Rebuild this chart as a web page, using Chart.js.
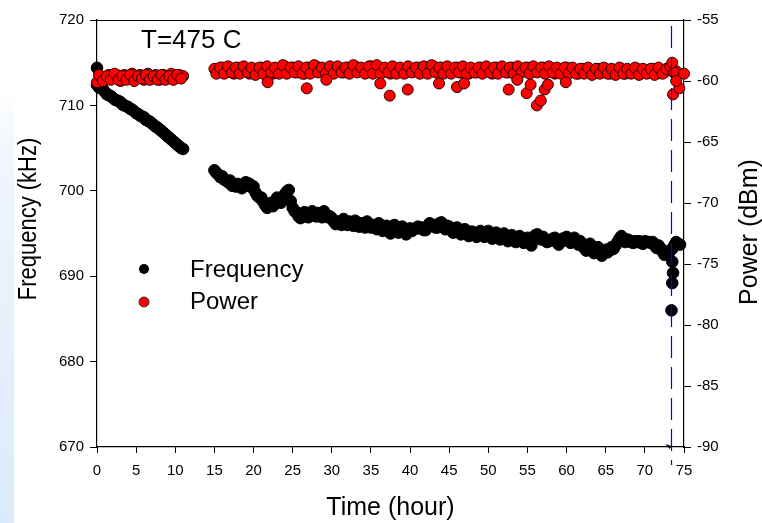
<!DOCTYPE html>
<html>
<head>
<meta charset="utf-8">
<script src="https://cdn.jsdelivr.net/npm/chart.js@4/dist/chart.umd.min.js"></script>
<style>
  body { margin: 0; background: #fff; }
  #wrap { width: 762px; height: 523px; }
</style>
</head>
<body>
<div id="wrap"><canvas id="chart" width="762" height="523"></canvas></div>
<script>
// Temps de mesure (heures) - deux segments, trou entre 11 et 15 h
const hours = [
  0, 0.5, 1, 1.5, 2, 2.5, 3, 3.5, 4, 4.5, 5, 5.5, 6, 6.5, 7, 7.5, 8, 8.5, 9, 9.5, 10, 10.5, 11,
  15, 15.5, 16, 16.5, 17, 17.5, 18, 18.5, 19, 19.5,
  20, 20.5, 21, 21.5, 22, 22.5, 23, 23.5, 24, 24.5,
  25, 25.5, 26, 26.5, 27, 27.5, 28, 28.5, 29, 29.5,
  30, 30.5, 31, 31.5, 32, 32.5, 33, 33.5, 34, 34.5,
  35, 35.5, 36, 36.5, 37, 37.5, 38, 38.5, 39, 39.5,
  40, 40.5, 41, 41.5, 42, 42.5, 43, 43.5, 44, 44.5,
  45, 45.5, 46, 46.5, 47, 47.5, 48, 48.5, 49, 49.5,
  50, 50.5, 51, 51.5, 52, 52.5, 53, 53.5, 54, 54.5,
  55, 55.5, 56, 56.5, 57, 57.5, 58, 58.5, 59, 59.5,
  60, 60.5, 61, 61.5, 62, 62.5, 63, 63.5, 64, 64.5,
  65, 65.5, 66, 66.5, 67, 67.5, 68, 68.5, 69, 69.5,
  70, 70.5, 71, 71.5, 72, 72.5, 73, 73.5, 74
];

// Fréquence (kHz)
const frequency = [
  712.4, 712.0, 711.6, 711.2, 710.9, 710.6, 710.4, 710.0, 709.8, 709.5, 709.1, 708.8,
  708.6, 708.2, 707.9, 707.5, 707.2, 706.8, 706.4, 706.0, 705.6, 705.2, 704.9,
  702.4, 701.9, 701.7, 701.2, 701.2, 700.7, 700.8, 700.3, 701.0, 700.8,
  700.5, 699.4, 699.2, 698.3, 698.3, 698.2, 699.2, 698.6, 699.6, 700.1,
  698.0, 697.5, 696.8, 697.5, 696.9, 697.6, 697.0, 697.2, 697.6, 696.9,
  696.8, 696.1, 696.3, 696.7, 696.0, 696.1, 696.5, 695.8, 696.0, 696.4,
  695.7, 695.8, 696.2, 695.3, 695.9, 695.0, 696.0, 695.1, 695.8, 694.9,
  695.6, 695.5, 695.8, 695.7, 695.4, 696.2, 696.0, 695.7, 696.3, 695.5,
  695.8, 695.1, 695.7, 694.9, 695.5, 694.7, 695.2, 694.6, 695.3, 694.6,
  695.3, 694.4, 695.1, 694.3, 695.0, 694.1, 694.8, 694.0, 694.7, 693.9,
  694.5, 693.6, 694.8, 694.6, 694.6, 694.0, 694.2, 694.5, 693.7, 694.4,
  694.6, 693.9, 694.5, 693.7, 693.7, 693.0, 693.8, 692.7, 693.4, 692.4,
  693.1, 693.0, 693.2, 694.0, 694.7, 694.0, 694.2, 693.9, 694.0, 693.9,
  694.1, 694.0, 694.0, 693.3, 693.3, 692.5, 692.6, 693.2, 694.0
];

// Puissance (dBm)
const power = [
  -60.1, -59.7, -59.9, -59.5, -59.8, -59.5, -60.0, -59.5, -59.8, -59.4, -59.8, -59.5,
  -59.9, -59.4, -59.8, -59.5, -59.9, -59.5, -59.8, -59.4, -59.8, -59.5, -59.6,
  -59.0, -59.3, -58.9, -59.3, -59.1, -59.4, -58.9, -59.2, -59.0, -59.4,
  -59.0, -59.3, -58.9, -59.3, -59.1, -59.4, -59.0, -59.3, -58.8, -59.2,
  -58.9, -59.3, -59.0, -59.4, -58.9, -59.2, -58.8, -59.2, -59.0, -59.3,
  -58.9, -59.2, -59.0, -59.3, -58.9, -59.2, -58.8, -59.2, -59.0, -59.3,
  -58.8, -59.2, -58.9, -59.3, -59.0, -59.4, -58.9, -59.2, -59.0, -59.3,
  -59.0, -59.2, -58.9, -59.3, -59.0, -59.2, -58.8, -59.2, -58.9, -59.3,
  -59.0, -59.2, -58.9, -59.3, -59.0, -59.4, -59.0, -59.3, -58.9, -59.2,
  -59.0, -59.4, -58.9, -59.2, -59.0, -59.3, -58.9, -59.4, -59.0, -59.2,
  -58.9, -59.3, -59.0, -59.2, -58.9, -59.3, -59.0, -59.4, -59.0, -59.2,
  -58.9, -59.3, -59.1, -59.4, -59.0, -59.3, -59.1, -59.4, -59.0, -59.3,
  -59.0, -59.4, -59.1, -59.3, -59.0, -59.4, -59.1, -59.3, -59.0, -59.4,
  -59.1, -59.3, -59.0, -59.4, -59.1, -59.3, -59.0, -59.2, -59.2
];

// Mesures intermédiaires (quarts d'heure)
const hoursMid = [
  0.25, 0.75, 1.25, 1.75, 2.25, 2.75, 3.25, 3.75, 4.25, 4.75, 5.25, 5.75,
  6.25, 6.75, 7.25, 7.75, 8.25, 8.75, 9.25, 9.75, 10.25, 10.75,
  15.25, 15.75, 16.25, 16.75, 17.25, 17.75, 18.25, 18.75, 19.25, 19.75,
  20.25, 20.75, 21.25, 21.75, 22.25, 22.75, 23.25, 23.75, 24.25, 24.75,
  25.25, 25.75, 26.25, 26.75, 27.25, 27.75, 28.25, 28.75, 29.25, 29.75,
  30.25, 30.75, 31.25, 31.75, 32.25, 32.75, 33.25, 33.75, 34.25, 34.75,
  35.25, 35.75, 36.25, 36.75, 37.25, 37.75, 38.25, 38.75, 39.25, 39.75,
  40.25, 40.75, 41.25, 41.75, 42.25, 42.75, 43.25, 43.75, 44.25, 44.75,
  45.25, 45.75, 46.25, 46.75, 47.25, 47.75, 48.25, 48.75, 49.25, 49.75,
  50.25, 50.75, 51.25, 51.75, 52.25, 52.75, 53.25, 53.75, 54.25, 54.75,
  55.25, 55.75, 56.25, 56.75, 57.25, 57.75, 58.25, 58.75, 59.25, 59.75,
  60.25, 60.75, 61.25, 61.75, 62.25, 62.75, 63.25, 63.75, 64.25, 64.75,
  65.25, 65.75, 66.25, 66.75, 67.25, 67.75, 68.25, 68.75, 69.25, 69.75,
  70.25, 70.75, 71.25, 71.75, 72.25, 72.75, 73.25, 73.75
];
const frequencyMid = [
  712.1, 711.9, 711.3, 711.1, 710.7, 710.5, 710.1, 709.9, 709.6, 709.3, 709.0, 708.7,
  708.3, 708.1, 707.7, 707.4, 707.0, 706.6, 706.2, 705.8, 705.4, 705.0,
  702.1, 701.6, 701.3, 701.0, 700.6, 700.5, 700.6, 700.6, 700.9, 700.4,
  699.8, 699.2, 698.7, 698.0, 698.6, 698.7, 698.9, 699.2, 699.9, 698.8,
  697.6, 697.0, 697.2, 697.0, 697.3, 697.1, 697.4, 696.9, 697.2, 697.0,
  696.4, 696.4, 696.0, 696.3, 696.4, 695.9, 696.0, 696.2, 695.7, 696.0,
  696.0, 695.5, 695.7, 695.8, 695.3, 695.6, 695.5, 695.4, 695.3, 695.3,
  695.3, 695.6, 695.6, 695.4, 695.8, 696.0, 695.7, 696.2, 695.8, 695.9,
  695.4, 695.6, 695.2, 695.4, 695.0, 695.2, 694.9, 695.0, 694.9, 695.0,
  694.8, 694.8, 694.7, 694.6, 694.5, 694.5, 694.3, 694.4, 694.2, 694.3,
  694.0, 694.2, 694.9, 694.3, 694.3, 694.1, 694.4, 694.0, 694.1, 694.2,
  694.3, 694.2, 694.0, 694.1, 693.3, 693.5, 693.1, 693.2, 692.8, 692.8,
  692.8, 693.4, 693.6, 694.4, 694.3, 694.3, 694.0, 694.1, 694.1, 693.8,
  694.0, 693.9, 693.6, 693.6, 692.9, 692.9, 693.0, 693.6
];
const powerMid = [
  -59.5, -60.0, -59.6, -59.9, -59.4, -59.9, -59.6, -59.9, -59.5, -60.0, -59.6, -59.8,
  -59.5, -59.9, -59.6, -59.9, -59.5, -59.9, -59.6, -59.9, -59.5, -59.8,
  -59.4, -58.9, -59.4, -58.8, -59.3, -58.9, -59.4, -58.8, -59.3, -58.9,
  -59.5, -58.9, -59.4, -58.8, -59.3, -58.9, -59.4, -58.7, -59.4, -58.9,
  -59.3, -58.8, -59.4, -58.9, -59.4, -58.7, -59.3, -58.9, -59.4, -58.8,
  -59.4, -58.8, -59.3, -58.9, -59.4, -58.7, -59.3, -58.9, -59.4, -58.8,
  -59.4, -58.7, -59.4, -58.9, -59.3, -58.8, -59.4, -58.9, -59.4, -58.8,
  -59.3, -58.9, -59.4, -58.8, -59.4, -58.7, -59.3, -58.9, -59.4, -58.8,
  -59.4, -58.9, -59.3, -58.8, -59.4, -58.9, -59.3, -58.9, -59.4, -58.8,
  -59.3, -58.9, -59.4, -58.8, -59.3, -58.9, -59.4, -58.8, -59.3, -58.9,
  -59.4, -58.8, -59.3, -58.9, -59.4, -58.8, -59.3, -58.9, -59.4, -58.9,
  -59.4, -58.9, -59.4, -59.0, -59.4, -58.9, -59.5, -59.0, -59.4, -58.9,
  -59.4, -59.0, -59.5, -58.9, -59.4, -59.0, -59.4, -58.9, -59.5, -59.0,
  -59.4, -59.0, -59.5, -58.9, -59.4, -59.0, -58.8, -59.3
];

// Points isolés
const freqExtraHours = [0, 73.5, 73.6, 73.5, 73.4, 74.5];
const freqExtra = [714.4, 691.7, 690.4, 689.2, 686.0, 693.7];
const powerExtraHours = [21.8, 26.8, 29.3, 36.2, 37.4, 39.7, 43.7, 46, 46.9, 52.6, 53.7, 54.9,
  55.4, 56.2, 56.7, 57.2, 57.6, 59.9, 73.6, 74.4, 75, 73.5, 74];
const powerExtra = [-60.1, -60.6, -59.9, -60.2, -61.2, -60.7, -60.2, -60.5, -60.2, -60.7, -59.9, -61.0,
  -60.3, -62.0, -61.6, -60.7, -60.3, -60.1, -61.1, -60.6, -59.4, -58.5, -60.0];

// Graduations
const timeTicks = [0, 5, 10, 15, 20, 25, 30, 35, 40, 45, 50, 55, 60, 65, 70, 75];
const freqTicks = [670, 680, 690, 700, 710, 720];
const powerTicks = [-90, -85, -80, -75, -70, -65, -60, -55];

const markerHour = 73.3;
const FONT = "'Liberation Sans', Arial, sans-serif";

function toPoints(xs, ys) {
    return xs.map((x, i) => ({ x: x, y: ys[i] }));
}

// Fond, titres, légende et ligne pointillée
const decorPlugin = {
    id: 'decor',
    beforeDraw(chart) {
        const c = chart.ctx;
        c.save();
        c.fillStyle = '#fff';
        c.fillRect(0, 0, chart.width, chart.height);
        const g = c.createLinearGradient(0, 90, 0, 523);
        g.addColorStop(0, 'rgba(230,240,252,0)');
        g.addColorStop(0.2, '#eef5fd');
        g.addColorStop(1, '#dbeafa');
        c.fillStyle = g;
        c.fillRect(0, 90, 14, 433);
        c.restore();
    },
    afterDraw(chart) {
        const c = chart.ctx;
        const a = chart.chartArea;
        const xs = chart.scales.x;
        c.save();
        // bord supérieur
        c.strokeStyle = '#000';
        c.lineWidth = 1.2;
        c.beginPath();
        c.moveTo(a.left, a.top + 0.5);
        c.lineTo(a.right, a.top + 0.5);
        c.stroke();

        // ligne verticale bleue
        const mx = Math.round(xs.getPixelForValue(markerHour)) + 0.5;
        c.strokeStyle = '#0000ff';
        c.lineWidth = 1.2;
        c.setLineDash([22, 9]);
        c.beginPath();
        c.moveTo(mx, a.top + 6);
        c.lineTo(mx, a.bottom + 18);
        c.stroke();
        c.setLineDash([]);

        // petite flèche
        c.fillStyle = '#000';
        c.beginPath();
        c.moveTo(mx - 6, a.bottom - 3);
        c.lineTo(mx, a.bottom - 1);
        c.lineTo(mx - 2, a.bottom + 2);
        c.closePath();
        c.fill();

        c.fillStyle = '#000';
        c.textBaseline = 'alphabetic';
        // T=475 C
        c.font = '26px ' + FONT;
        c.textAlign = 'left';
        c.fillText('T=475 C', 141, 48);

        // légende
        c.font = '24px ' + FONT;
        c.textBaseline = 'middle';
        c.fillText('Frequency', 190, 270);
        c.fillText('Power', 190, 302);
        c.beginPath();
        c.arc(144, 269, 5, 0, Math.PI * 2);
        c.fillStyle = '#000';
        c.fill();
        c.beginPath();
        c.arc(144, 302, 5, 0, Math.PI * 2);
        c.fillStyle = '#ff0000';
        c.fill();
        c.strokeStyle = '#333';
        c.lineWidth = 1;
        c.stroke();

        // titre axe gauche
        c.fillStyle = '#000';
        c.font = '25px ' + FONT;
        c.textAlign = 'center';
        c.save();
        c.translate(29, 219);
        c.rotate(-Math.PI / 2);
        c.scale(0.88, 1);
        c.fillText('Frequency (kHz)', 0, 0);
        c.restore();

        // titre axe droit
        c.save();
        c.translate(750, 232);
        c.rotate(-Math.PI / 2);
        c.fillText('Power (dBm)', 0, 0);
        c.restore();
        c.restore();
    }
};

const ctx = document.getElementById('chart').getContext('2d');

new Chart(ctx, {
    type: 'scatter',
    data: {
        datasets: [
            {
                label: 'Power',
                data: toPoints(hours, power)
                    .concat(toPoints(hoursMid, powerMid))
                    .concat(toPoints(powerExtraHours, powerExtra)),
                yAxisID: 'y1',
                backgroundColor: '#ff0000',
                borderColor: '#2a0000',
                borderWidth: 1,
                pointRadius: 5.5,
                clip: false
            },
            {
                label: 'Frequency',
                data: toPoints(hours, frequency)
                    .concat(toPoints(hoursMid, frequencyMid))
                    .concat(toPoints(freqExtraHours, freqExtra)),
                yAxisID: 'y',
                backgroundColor: '#000',
                borderColor: '#000',
                borderWidth: 1,
                pointRadius: 5.8,
                clip: false
            }
        ]
    },
    options: {
        responsive: false,
        animation: false,
        layout: { padding: { top: 20, left: 0, right: 0, bottom: 0 } },
        plugins: {
            legend: { display: false },
            tooltip: { enabled: false }
        },
        scales: {
            x: {
                type: 'linear',
                min: 0,
                max: 75,
                afterBuildTicks: s => { s.ticks = timeTicks.map(v => ({ value: v })); },
                afterFit: s => { s.height = 76; },
                ticks: { color: '#000', font: { size: 15, family: FONT }, padding: 9, maxRotation: 0 },
                grid: { drawOnChartArea: false, tickLength: 6, color: '#000', tickWidth: 1 },
                border: { color: '#000', width: 1.2 },
                title: {
                    display: true,
                    text: 'Time (hour)',
                    color: '#000',
                    font: { size: 25, family: FONT },
                    padding: { top: 0, bottom: 0 }
                }
            },
            y: {
                position: 'left',
                min: 670,
                max: 720,
                afterBuildTicks: s => { s.ticks = freqTicks.map(v => ({ value: v })); },
                afterFit: s => { s.width = 97; },
                ticks: { color: '#000', font: { size: 15, family: FONT }, padding: 6 },
                grid: { drawOnChartArea: false, tickLength: 7, color: '#000' },
                border: { color: '#000', width: 1.2 }
            },
            y1: {
                position: 'right',
                min: -90,
                max: -55,
                afterBuildTicks: s => { s.ticks = powerTicks.map(v => ({ value: v })); },
                afterFit: s => { s.width = 78; },
                ticks: { color: '#000', font: { size: 15, family: FONT }, padding: 6 },
                grid: { drawOnChartArea: false, tickLength: 7, color: '#000' },
                border: { color: '#000', width: 1.2 }
            }
        }
    },
    plugins: [decorPlugin]
});
</script>
</body>
</html>
